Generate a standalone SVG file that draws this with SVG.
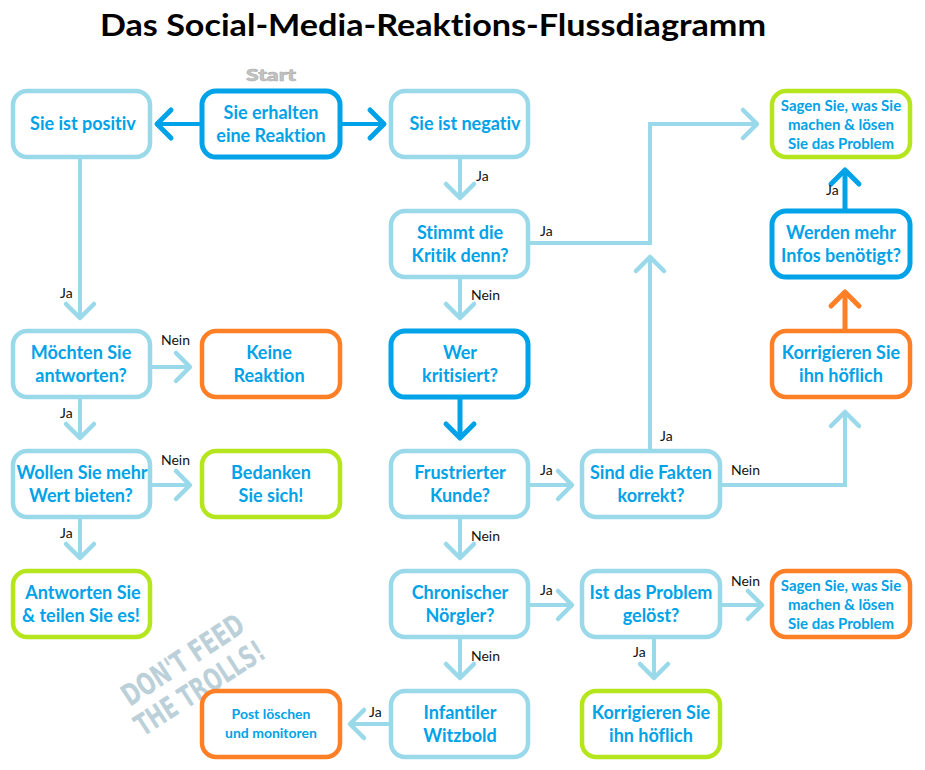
<svg xmlns="http://www.w3.org/2000/svg" width="925" height="770" viewBox="0 0 925 770">
<style>
text{font-variant-ligatures:none}
.box{fill:#fff;stroke-width:4.5}
.lb{stroke:#99d9ea}
.bl{stroke:#00a2e8;stroke-width:5}
.gr{stroke:#b5e61d}
.or{stroke:#ff7f27}
.t{font-family:Lato,"Open Sans","Liberation Sans",sans-serif;font-weight:bold;font-size:18px;fill:#00a2e8;text-anchor:middle}
.s{font-size:15px}
.xs{font-size:14px}
.lab{font-family:Lato,"Liberation Sans",sans-serif;font-size:14px;fill:#111}
.c{fill:none;stroke-width:4}
.cl{stroke:#99d9ea}
.cb{stroke:#00a2e8}
.co{stroke:#ff7f27}
</style>
<defs>
<marker id="mlb" markerUnits="userSpaceOnUse" markerWidth="40" markerHeight="40" refX="20" refY="20" orient="auto" viewBox="0 0 40 40"><path d="M6,6 L20,20 L6,34" fill="none" stroke="#99d9ea" stroke-width="4.5" stroke-linecap="round" stroke-linejoin="round"/></marker>
<marker id="mbl" markerUnits="userSpaceOnUse" markerWidth="40" markerHeight="40" refX="20" refY="20" orient="auto" viewBox="0 0 40 40"><path d="M6,6 L20,20 L6,34" fill="none" stroke="#00a2e8" stroke-width="5" stroke-linecap="round" stroke-linejoin="round"/></marker>
<marker id="mor" markerUnits="userSpaceOnUse" markerWidth="40" markerHeight="40" refX="20" refY="20" orient="auto" viewBox="0 0 40 40"><path d="M6,6 L20,20 L6,34" fill="none" stroke="#ff7f27" stroke-width="5" stroke-linecap="round" stroke-linejoin="round"/></marker>
</defs>
<rect width="925" height="770" fill="#fff"/>
<text x="433" y="36" font-family="Lato,'Liberation Sans',sans-serif" font-weight="bold" font-size="31" fill="#000" text-anchor="middle" textLength="666" lengthAdjust="spacingAndGlyphs">Das Social-Media-Reaktions-Flussdiagramm</text>
<text x="271" y="81" font-family="Lato,'Liberation Sans',sans-serif" font-weight="900" font-size="17" fill="#c3c3c3" stroke="#b0b0b0" stroke-width="0.6" text-anchor="middle" textLength="50" lengthAdjust="spacingAndGlyphs">Start</text>
<g id="watermark" font-family="'Liberation Sans Narrow','DejaVu Sans Condensed',sans-serif" font-weight="bold" font-size="30" fill="#b4ccd4" opacity="0.9">
<text transform="translate(130,707) rotate(-33.3)" textLength="140" lengthAdjust="spacingAndGlyphs">DON'T FEED</text>
<text transform="translate(143,737) rotate(-32.8)" textLength="148" lengthAdjust="spacingAndGlyphs">THE TROLLS!</text>
</g>
<g id="connectors">
<path class="c cb" d="M200,124 H157" marker-end="url(#mbl)"/>
<path class="c cb" d="M341,124 H384" marker-end="url(#mbl)"/>
<path class="c cl" d="M80,158 V318" marker-end="url(#mlb)"/>
<path class="c cl" d="M460,158 V198" marker-end="url(#mlb)"/>
<path class="c cl" d="M530,243 H650 V124 H757" marker-end="url(#mlb)"/>
<path class="c cl" d="M460,278 V318" marker-end="url(#mlb)"/>
<path class="c cb" style="stroke-width:5" d="M460,398 V438" marker-end="url(#mbl)"/>
<path class="c cl" d="M152,367 H190" marker-end="url(#mlb)"/>
<path class="c cl" d="M80,398 V438" marker-end="url(#mlb)"/>
<path class="c cl" d="M152,485 H190" marker-end="url(#mlb)"/>
<path class="c cl" d="M80,518 V558" marker-end="url(#mlb)"/>
<path class="c cl" d="M530,485 H572" marker-end="url(#mlb)"/>
<path class="c cl" d="M460,518 V558" marker-end="url(#mlb)"/>
<path class="c cl" d="M650,450 V257" marker-end="url(#mlb)"/>
<path class="c cl" d="M722,485 H845 V412" marker-end="url(#mlb)"/>
<path class="c co" style="stroke-width:5" d="M845,330 V292" marker-end="url(#mor)"/>
<path class="c cb" style="stroke-width:5" d="M845,210 V170" marker-end="url(#mbl)"/>
<path class="c cl" d="M530,605 H572" marker-end="url(#mlb)"/>
<path class="c cl" d="M460,638 V678" marker-end="url(#mlb)"/>
<path class="c cl" d="M722,605 H762" marker-end="url(#mlb)"/>
<path class="c cl" d="M654,638 V678" marker-end="url(#mlb)"/>
<path class="c cl" d="M390,724 H350" marker-end="url(#mlb)"/>
<text class="lab" x="60" y="298">Ja</text>
<text class="lab" x="476" y="181">Ja</text>
<text class="lab" x="540" y="236">Ja</text>
<text class="lab" x="471" y="300">Nein</text>
<text class="lab" x="161" y="345">Nein</text>
<text class="lab" x="60" y="418">Ja</text>
<text class="lab" x="161" y="465">Nein</text>
<text class="lab" x="60" y="538">Ja</text>
<text class="lab" x="540" y="475">Ja</text>
<text class="lab" x="471" y="541">Nein</text>
<text class="lab" x="660" y="441">Ja</text>
<text class="lab" x="731" y="475">Nein</text>
<text class="lab" x="826" y="195">Ja</text>
<text class="lab" x="540" y="595">Ja</text>
<text class="lab" x="471" y="661">Nein</text>
<text class="lab" x="731" y="586">Nein</text>
<text class="lab" x="633" y="657">Ja</text>
<text class="lab" x="369" y="717">Ja</text>
</g>
<g id="n-positiv"><rect class="box lb" x="13" y="91" width="137" height="66" rx="14"/><text class="t" x="83" y="130">Sie ist positiv</text></g>
<g id="n-start"><rect class="box bl" x="202" y="91" width="138" height="66" rx="14"/><text class="t" x="271" y="119">Sie erhalten</text><text class="t" x="271" y="142">eine Reaktion</text></g>
<g id="n-negativ"><rect class="box lb" x="391" y="91" width="137" height="66" rx="14"/><text class="t" x="465" y="130">Sie ist negativ</text></g>
<g id="n-sagen1"><rect class="box gr" x="772" y="91" width="138" height="66" rx="14"/><text class="t s" x="841" y="111">Sagen Sie, was Sie</text><text class="t s" x="841" y="130">machen &amp; lösen</text><text class="t s" x="841" y="149">Sie das Problem</text></g>
<g id="n-stimmt"><rect class="box lb" x="391" y="211" width="137" height="66" rx="14"/><text class="t" x="460" y="239">Stimmt die</text><text class="t" x="460" y="262">Kritik denn?</text></g>
<g id="n-werden"><rect class="box bl" x="772" y="211" width="138" height="66" rx="14"/><text class="t" x="841" y="239">Werden mehr</text><text class="t" x="841" y="262">Infos benötigt?</text></g>
<g id="n-moechten"><rect class="box lb" x="13" y="331" width="137" height="66" rx="14"/><text class="t" x="81" y="359">Möchten Sie</text><text class="t" x="81" y="382">antworten?</text></g>
<g id="n-keine"><rect class="box or" x="202" y="331" width="138" height="66" rx="14"/><text class="t" x="269" y="359">Keine</text><text class="t" x="269" y="382">Reaktion</text></g>
<g id="n-wer"><rect class="box bl" x="391" y="331" width="137" height="66" rx="14"/><text class="t" x="460" y="359">Wer</text><text class="t" x="460" y="382">kritisiert?</text></g>
<g id="n-korr1"><rect class="box or" x="772" y="331" width="138" height="66" rx="14"/><text class="t" x="841" y="359">Korrigieren Sie</text><text class="t" x="841" y="382">ihn höflich</text></g>
<g id="n-wollen"><rect class="box lb" x="13" y="451" width="137" height="66" rx="14"/><text class="t" x="82" y="479">Wollen Sie mehr</text><text class="t" x="81" y="502">Wert bieten?</text></g>
<g id="n-bedanken"><rect class="box gr" x="202" y="451" width="138" height="66" rx="14"/><text class="t" x="271" y="479">Bedanken</text><text class="t" x="271" y="502">Sie sich!</text></g>
<g id="n-frustriert"><rect class="box lb" x="391" y="451" width="137" height="66" rx="14"/><text class="t" x="460" y="479">Frustrierter</text><text class="t" x="460" y="502">Kunde?</text></g>
<g id="n-fakten"><rect class="box lb" x="582" y="451" width="138" height="66" rx="14"/><text class="t" x="651" y="479">Sind die Fakten</text><text class="t" x="651" y="502">korrekt?</text></g>
<g id="n-antworten"><rect class="box gr" x="13" y="571" width="137" height="66" rx="14"/><text class="t" x="83" y="599">Antworten Sie</text><text class="t" x="81" y="622">&amp; teilen Sie es!</text></g>
<g id="n-chronisch"><rect class="box lb" x="391" y="571" width="137" height="66" rx="14"/><text class="t" x="460" y="599">Chronischer</text><text class="t" x="460" y="622">Nörgler?</text></g>
<g id="n-geloest"><rect class="box lb" x="582" y="571" width="138" height="66" rx="14"/><text class="t" x="651" y="599">Ist das Problem</text><text class="t" x="651" y="622">gelöst?</text></g>
<g id="n-sagen2"><rect class="box or" x="772" y="571" width="138" height="66" rx="14"/><text class="t s" x="841" y="591">Sagen Sie, was Sie</text><text class="t s" x="841" y="610">machen &amp; lösen</text><text class="t s" x="841" y="629">Sie das Problem</text></g>
<g id="n-post"><rect class="box or" x="202" y="691" width="138" height="66" rx="14"/><text class="t xs" x="271" y="719">Post löschen</text><text class="t xs" x="271" y="738">und monitoren</text></g>
<g id="n-infantil"><rect class="box lb" x="391" y="691" width="137" height="66" rx="14"/><text class="t" x="460" y="719">Infantiler</text><text class="t" x="460" y="742">Witzbold</text></g>
<g id="n-korr2"><rect class="box gr" x="582" y="691" width="138" height="66" rx="14"/><text class="t" x="651" y="719">Korrigieren Sie</text><text class="t" x="651" y="742">ihn höflich</text></g>
</svg>
